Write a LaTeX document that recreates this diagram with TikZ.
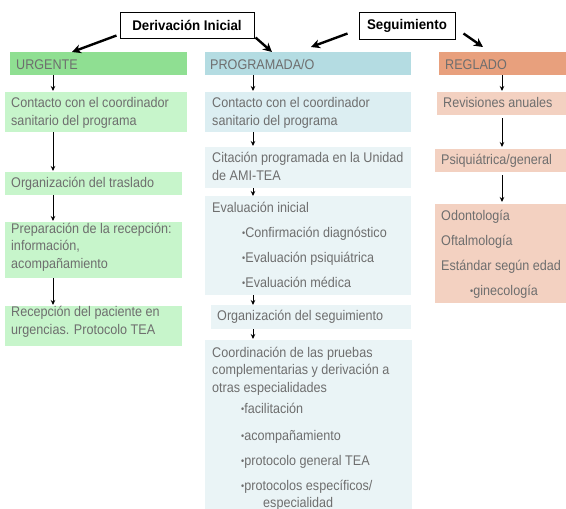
\documentclass[tikz,border=0pt]{standalone}
\usepackage{fontspec}
\setmainfont{Liberation Sans}[FakeStretch=0.9]
\newfontfamily\hdrfont{Liberation Sans}[FakeStretch=0.95]
\usetikzlibrary{arrows.meta,calc}
\definecolor{urgHead}{HTML}{8FDF92}
\definecolor{urgBox}{HTML}{C7F5CB}
\definecolor{progHead}{HTML}{B4DCE2}
\definecolor{progBoxA}{HTML}{DCEEF2}
\definecolor{progBox}{HTML}{EAF4F6}
\definecolor{regHead}{HTML}{E8A07D}
\definecolor{regBox}{HTML}{F3D1C1}
\definecolor{txtgray}{HTML}{6E6E6E}
\newcommand{\bul}{{\fontsize{10}{10}\selectfont\raisebox{0.5pt}{•}}}
\begin{document}
\begin{tikzpicture}[x=1pt,y=-1pt,
  box/.style={anchor=north west, inner sep=0pt, outer sep=0pt, draw=none},
  txt/.style={anchor=base west, inner sep=0pt, text=txtgray, font=\fontsize{14}{17.5}\selectfont, align=left},
  hdr/.style={draw=black, line width=1pt, fill=white, inner sep=0pt, font=\hdrfont\bfseries\fontsize{14}{16}\selectfont},
  bigarrow/.style={line width=2.4pt, -{Stealth[length=9pt,width=9pt]}},
  flow/.style={line width=0.9pt, -{Stealth[length=5pt,width=4.5pt]}}]
\useasboundingbox (0,0) rectangle (566,509);
\fill[white] (0,0) rectangle (566,509);

% top boxes
\node[hdr, minimum width=134pt, minimum height=26pt] (der) at (187,25) {Derivación Inicial};
\node[hdr, minimum width=96pt, minimum height=27pt] (seg) at (407,25.5) {Seguimiento};

% column headers
\node[box, fill=urgHead, minimum width=177pt, minimum height=23pt] (urgh) at (10,52) {};
\node[box, fill=progHead, minimum width=206pt, minimum height=23pt] (progh) at (205,52) {};
\node[box, fill=regHead, minimum width=127pt, minimum height=23pt] (regh) at (439,52) {};
\node[txt] (urght) at (16,69) {URGENTE};
\node[txt] (proght) at (210,69) {PROGRAMADA/O};
\node[txt] (reght) at (445,69) {REGLADO};

% URGENTE column
\node[box, fill=urgBox, minimum width=182pt, minimum height=40pt] (u1) at (5,92) {};
\node[box, fill=urgBox, minimum width=177pt, minimum height=23pt] (u2) at (5,172) {};
\node[box, fill=urgBox, minimum width=177pt, minimum height=56pt] (u3) at (5,222) {};
\node[box, fill=urgBox, minimum width=177pt, minimum height=40pt] (u4) at (5,306) {};
\node[txt] (u1t) at (11,125) {Contacto con el coordinador\\sanitario del programa};
\node[txt] (u2t) at (11,187) {Organización del traslado};
\node[txt] (u3t) at (11,268) {Preparación de la recepción:\\información,\\acompañamiento};
\node[txt] (u4t) at (11,334) {Recepción del paciente en\\urgencias. Protocolo TEA};

% PROGRAMADA column
\node[box, fill=progBoxA, minimum width=206pt, minimum height=40pt] (p1) at (205,92) {};
\node[box, fill=progBox, minimum width=206pt, minimum height=41pt] (p2) at (205,147) {};
\node[box, fill=progBox, minimum width=206pt, minimum height=99pt] (p3) at (205,196) {};
\node[box, fill=progBox, minimum width=200pt, minimum height=24pt] (p4) at (211,305) {};
\node[box, fill=progBox, minimum width=207pt, minimum height=169pt] (p5) at (205,340) {};
\node[txt] (p1t) at (212,125) {Contacto con el coordinador\\sanitario del programa};
\node[txt] (p2t) at (212,180) {Citación programada en la Unidad\\de AMI-TEA};
\node[txt] (p3t) at (212,212) {Evaluación inicial};
\node[txt] (p3a) at (242,237) {\bul Confirmación diagnóstico};
\node[txt] (p3b) at (242,262) {\bul Evaluación psiquiátrica};
\node[txt] (p3c) at (242,287) {\bul Evaluación médica};
\node[txt] (p4t) at (217,320) {Organización del seguimiento};
\node[txt] (p5t) at (212,392) {Coordinación de las pruebas\\complementarias y derivación a\\otras especialidades};
\node[txt] (p5a) at (241,413) {\bul facilitación};
\node[txt] (p5b) at (241,440) {\bul acompañamiento};
\node[txt] (p5c) at (241,465) {\bul protocolo general TEA};
\node[txt] (p5d) at (241,490) {\bul protocolos específicos/};
\node[txt] (p5e) at (263,507) {especialidad};

% REGLADO column
\node[box, fill=regBox, minimum width=129pt, minimum height=23pt] (r1) at (437,92) {};
\node[box, fill=regBox, minimum width=131pt, minimum height=23pt] (r2) at (435,149) {};
\node[box, fill=regBox, minimum width=131pt, minimum height=99pt] (r3) at (435,204) {};
\node[txt] (r1t) at (443,107) {Revisiones anuales};
\node[txt] (r2t) at (441,164) {Psiquiátrica/general};
\node[txt] (r3a) at (441,220) {Odontología};
\node[txt] (r3b) at (441,245) {Oftalmología};
\node[txt] (r3c) at (441,270) {Estándar según edad};
\node[txt] (r3d) at (470,295) {\bul ginecología};

% column arrow x positions
\coordinate (ux) at (53,0);
\coordinate (px) at (253,0);
\coordinate (rx) at (502,0);

% big arrows
\draw[bigarrow] ($(der.south west)+(-3,-3)$) -- ($(urgh.north west)+(62,0)$);
\draw[bigarrow] ($(der.south east)+(1,-1)$) -- ($(progh.north west)+(67,0)$);
\draw[bigarrow] ($(seg.south west)+(-11,-6)$) -- ($(progh.north west)+(106,-5)$);
\draw[bigarrow] ($(seg.south east)+(8,-6)$) -- ($(regh.north west)+(44,-5)$);

% flow arrows
\draw[flow] (urgh.south -| ux) -- ($(u1.north -| ux)+(0,-1)$);
\draw[flow] (u1.south -| ux) -- ($(u2.north -| ux)+(0,-1)$);
\draw[flow] (u2.south -| ux) -- ($(u3.north -| ux)+(0,-1)$);
\draw[flow] (u3.south -| ux) -- ($(u4.north -| ux)+(0,-1)$);
\draw[flow] (progh.south -| px) -- ($(p1.north -| px)+(0,-1)$);
\draw[flow] (p1.south -| px) -- ($(p2.north -| px)+(0,-1)$);
\draw[flow] (p2.south -| px) -- (p3.north -| px);
\draw[flow] (p3.south -| px) -- (p4.north -| px);
\draw[flow] (p4.south -| px) -- ($(p5.north -| px)+(0,-1)$);
\draw[flow] (regh.south -| rx) -- ($(r1.north -| rx)+(0,-1)$);
\draw[flow] ($(r1.south -| rx)+(0,3)$) -- ($(r2.north -| rx)+(0,-2)$);
\draw[flow] ($(r2.south -| rx)+(0,3)$) -- ($(r3.north -| rx)+(0,-2)$);
\end{tikzpicture}
\end{document}
